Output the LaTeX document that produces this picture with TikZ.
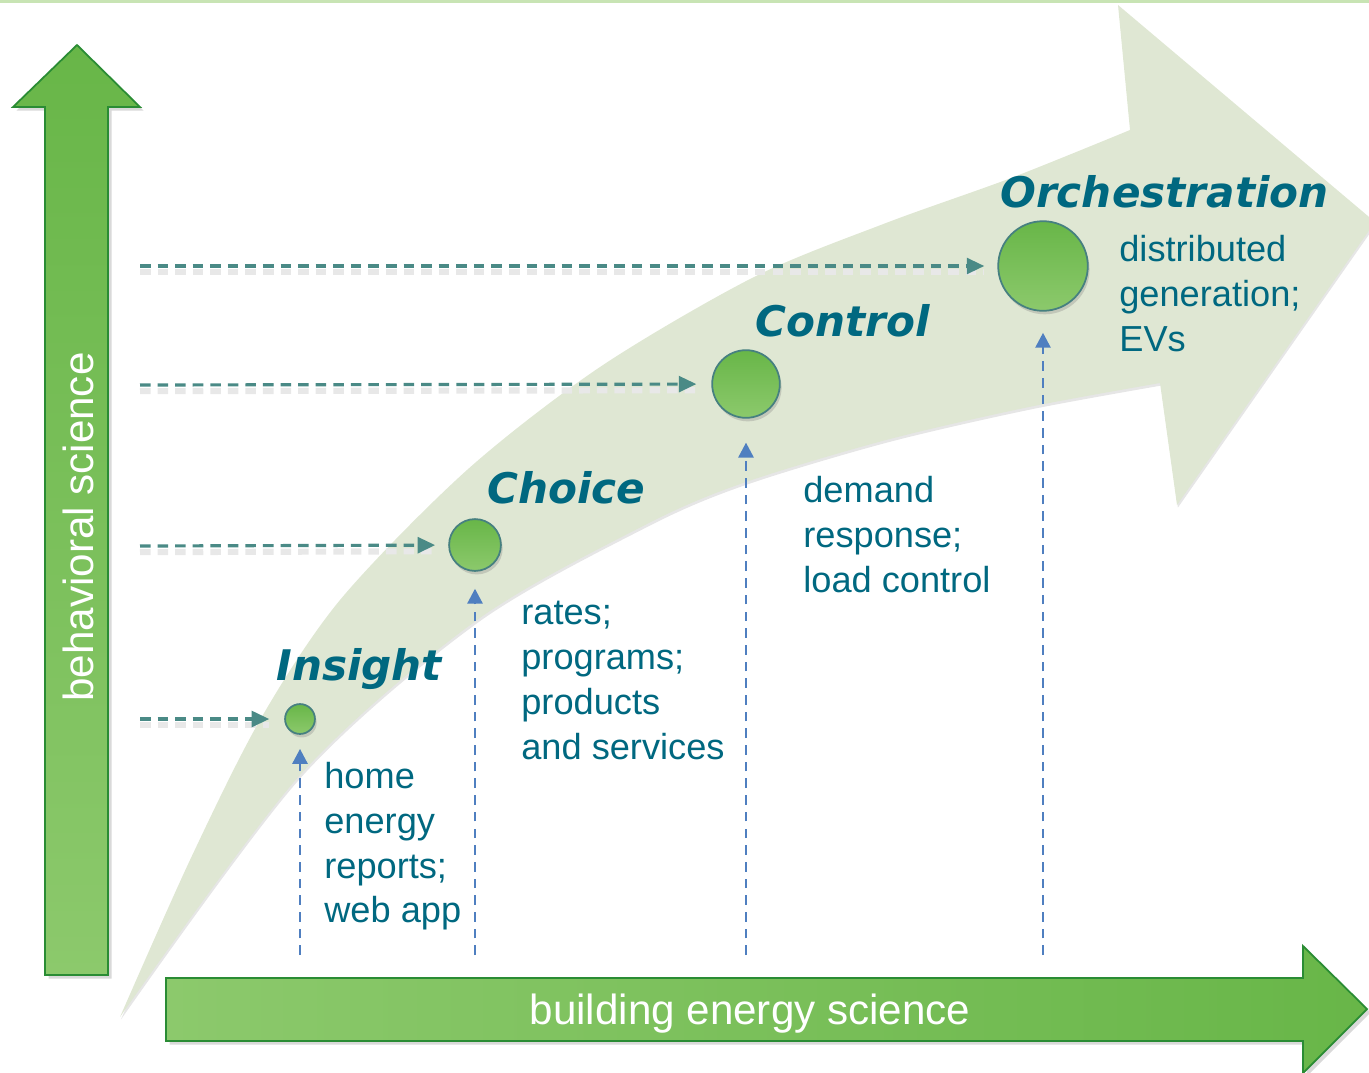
\documentclass[tikz,border=0pt]{standalone}
\usepackage{fontspec}
\setmainfont{Liberation Sans}
\newfontfamily\stagefont{DejaVu Sans}
\usetikzlibrary{arrows.meta,shadows}

\definecolor{tealtext}{RGB}{0,104,128}
\definecolor{levelteal}{RGB}{74,138,134}
\definecolor{upblue}{RGB}{79,127,192}
\definecolor{bandgreen}{RGB}{223,231,211}
\definecolor{arrowdark}{RGB}{104,182,72}
\definecolor{arrowlight}{RGB}{140,201,108}
\definecolor{arrowedge}{RGB}{42,140,52}
\definecolor{circleedge}{RGB}{70,128,128}
\definecolor{topline}{RGB}{200,228,180}

\begin{document}
\begin{tikzpicture}[x=0.02cm,y=-0.02cm,
    band/.style={fill=bandgreen, drop shadow={opacity=0.2, shadow xshift=0.5pt, shadow yshift=-1.5pt}},
    bigarrow/.style={draw=arrowedge, line width=1pt, drop shadow={opacity=0.3, shadow xshift=2pt, shadow yshift=-2pt}},
    stage/.style={circle, draw=circleedge, line width=1pt, top color=arrowdark, bottom color=arrowlight, inner sep=0pt,
        drop shadow={opacity=0.3, shadow xshift=1pt, shadow yshift=-2pt}},
    title/.style={text=tealtext, font=\stagefont\bfseries\itshape\fontsize{24}{28}\selectfont, inner sep=0pt, anchor=base west},
    note/.style={text=tealtext, font=\fontsize{20.6}{25.5}\selectfont, align=left, inner sep=0pt, anchor=north west},
    level/.style={draw=levelteal, line width=1.8pt, dash pattern=on 6pt off 4pt, -{Triangle[length=10pt,width=9pt]},
        preaction={draw=black!9, line width=3.5pt, dash pattern=on 6pt off 4pt, arrows=-, transform canvas={yshift=-3.5pt}}},
    upline/.style={draw=upblue, line width=1.6pt, dash pattern=on 5.5pt off 4pt, -{Triangle[length=8.5pt,width=8.5pt]}},
  ]
  \useasboundingbox (0,0) rectangle (1369,1072);
  \clip (0,0) rectangle (1369,1072);
  \draw[topline, line width=2pt] (0,1) -- (1369,1);

  % curved band
  \fill[band] plot[smooth] coordinates {(120,1017) (190,860) (260,720) (340,600) (467,470) (600,367) (754,277) (886,223) (1011,178) (1130,130)}
    -- (1118,5) -- (1375,222) -- (1177,505) -- (1160,383)
    -- plot[smooth] coordinates {(1160,383) (1029,407) (886,440) (743,483) (645,525) (477,620) (300,775) (120,1017)} -- cycle;

  % axes
  \draw[bigarrow, top color=arrowdark, bottom color=arrowlight]
    (45,975) -- (45,107) -- (13,107) -- (77,45) -- (140,107) -- (108,107) -- (108,975) -- cycle;
  \draw[bigarrow, left color=arrowlight, right color=arrowdark]
    (166,978) -- (1303,978) -- (1303,946) -- (1367,1009) -- (1303,1073) -- (1303,1041) -- (166,1041) -- cycle;
  \node[rotate=90, text=white, font=\fontsize{24}{28}\selectfont] (behav) at (78,527) {behavioral science};
  \node[text=white, font=\fontsize{24}{28}\selectfont] (build) at (750,1014) {building energy science};

  % stages
  \node[stage, minimum size=17pt] (insight) at (300,719) {};
  \node[stage, minimum size=29.5pt] (choice) at (475,545) {};
  \node[stage, minimum size=38.5pt] (control) at (746,384) {};
  \node[stage, minimum size=51pt] (orch) at (1043,266) {};

  \node[title] (tinsight) at (276,680) {Insight};
  \node[title] (tchoice) at (487,503) {Choice};
  \node[title] (tcontrol) at (755,336) {Control};
  \node[title] (torch) at (1000,207) {Orchestration};

  \node[note] (ninsight) at (324,762) {home\\energy\\reports;\\web app};
  \node[note] (nchoice) at (521,601) {rates;\\programs;\\products\\and services};
  \node[note] (ncontrol) at (803,476) {demand\\response;\\load control};
  \node[note] (norch) at (1119,235) {distributed\\generation;\\EVs};

  % behavioral levels
  \coordinate (l1) at (140,719);
  \coordinate (l2) at (140,546);
  \coordinate (l3) at (140,385);
  \coordinate (l4) at (140,266);
  \draw[level, shorten >=8.5pt] (l1) -- (insight);
  \draw[level, shorten >=7.4pt] (l2) -- (choice);
  \draw[level, shorten >=8.5pt] (l3) -- (control);
  \draw[level, shorten >=7.4pt] (l4) -- (orch);

  % building energy levels
  \coordinate (b1) at (300,955);
  \coordinate (b2) at (475,955);
  \coordinate (b3) at (746,955);
  \coordinate (b4) at (1043,955);
  \draw[upline, shorten >=8pt] (b1) -- (insight.south);
  \draw[upline, shorten >=9.6pt] (b2) -- (choice.south);
  \draw[upline, shorten >=13.6pt] (b3) -- (control.south);
  \draw[upline, shorten >=12pt] (b4) -- (orch.south);
\end{tikzpicture}
\end{document}
